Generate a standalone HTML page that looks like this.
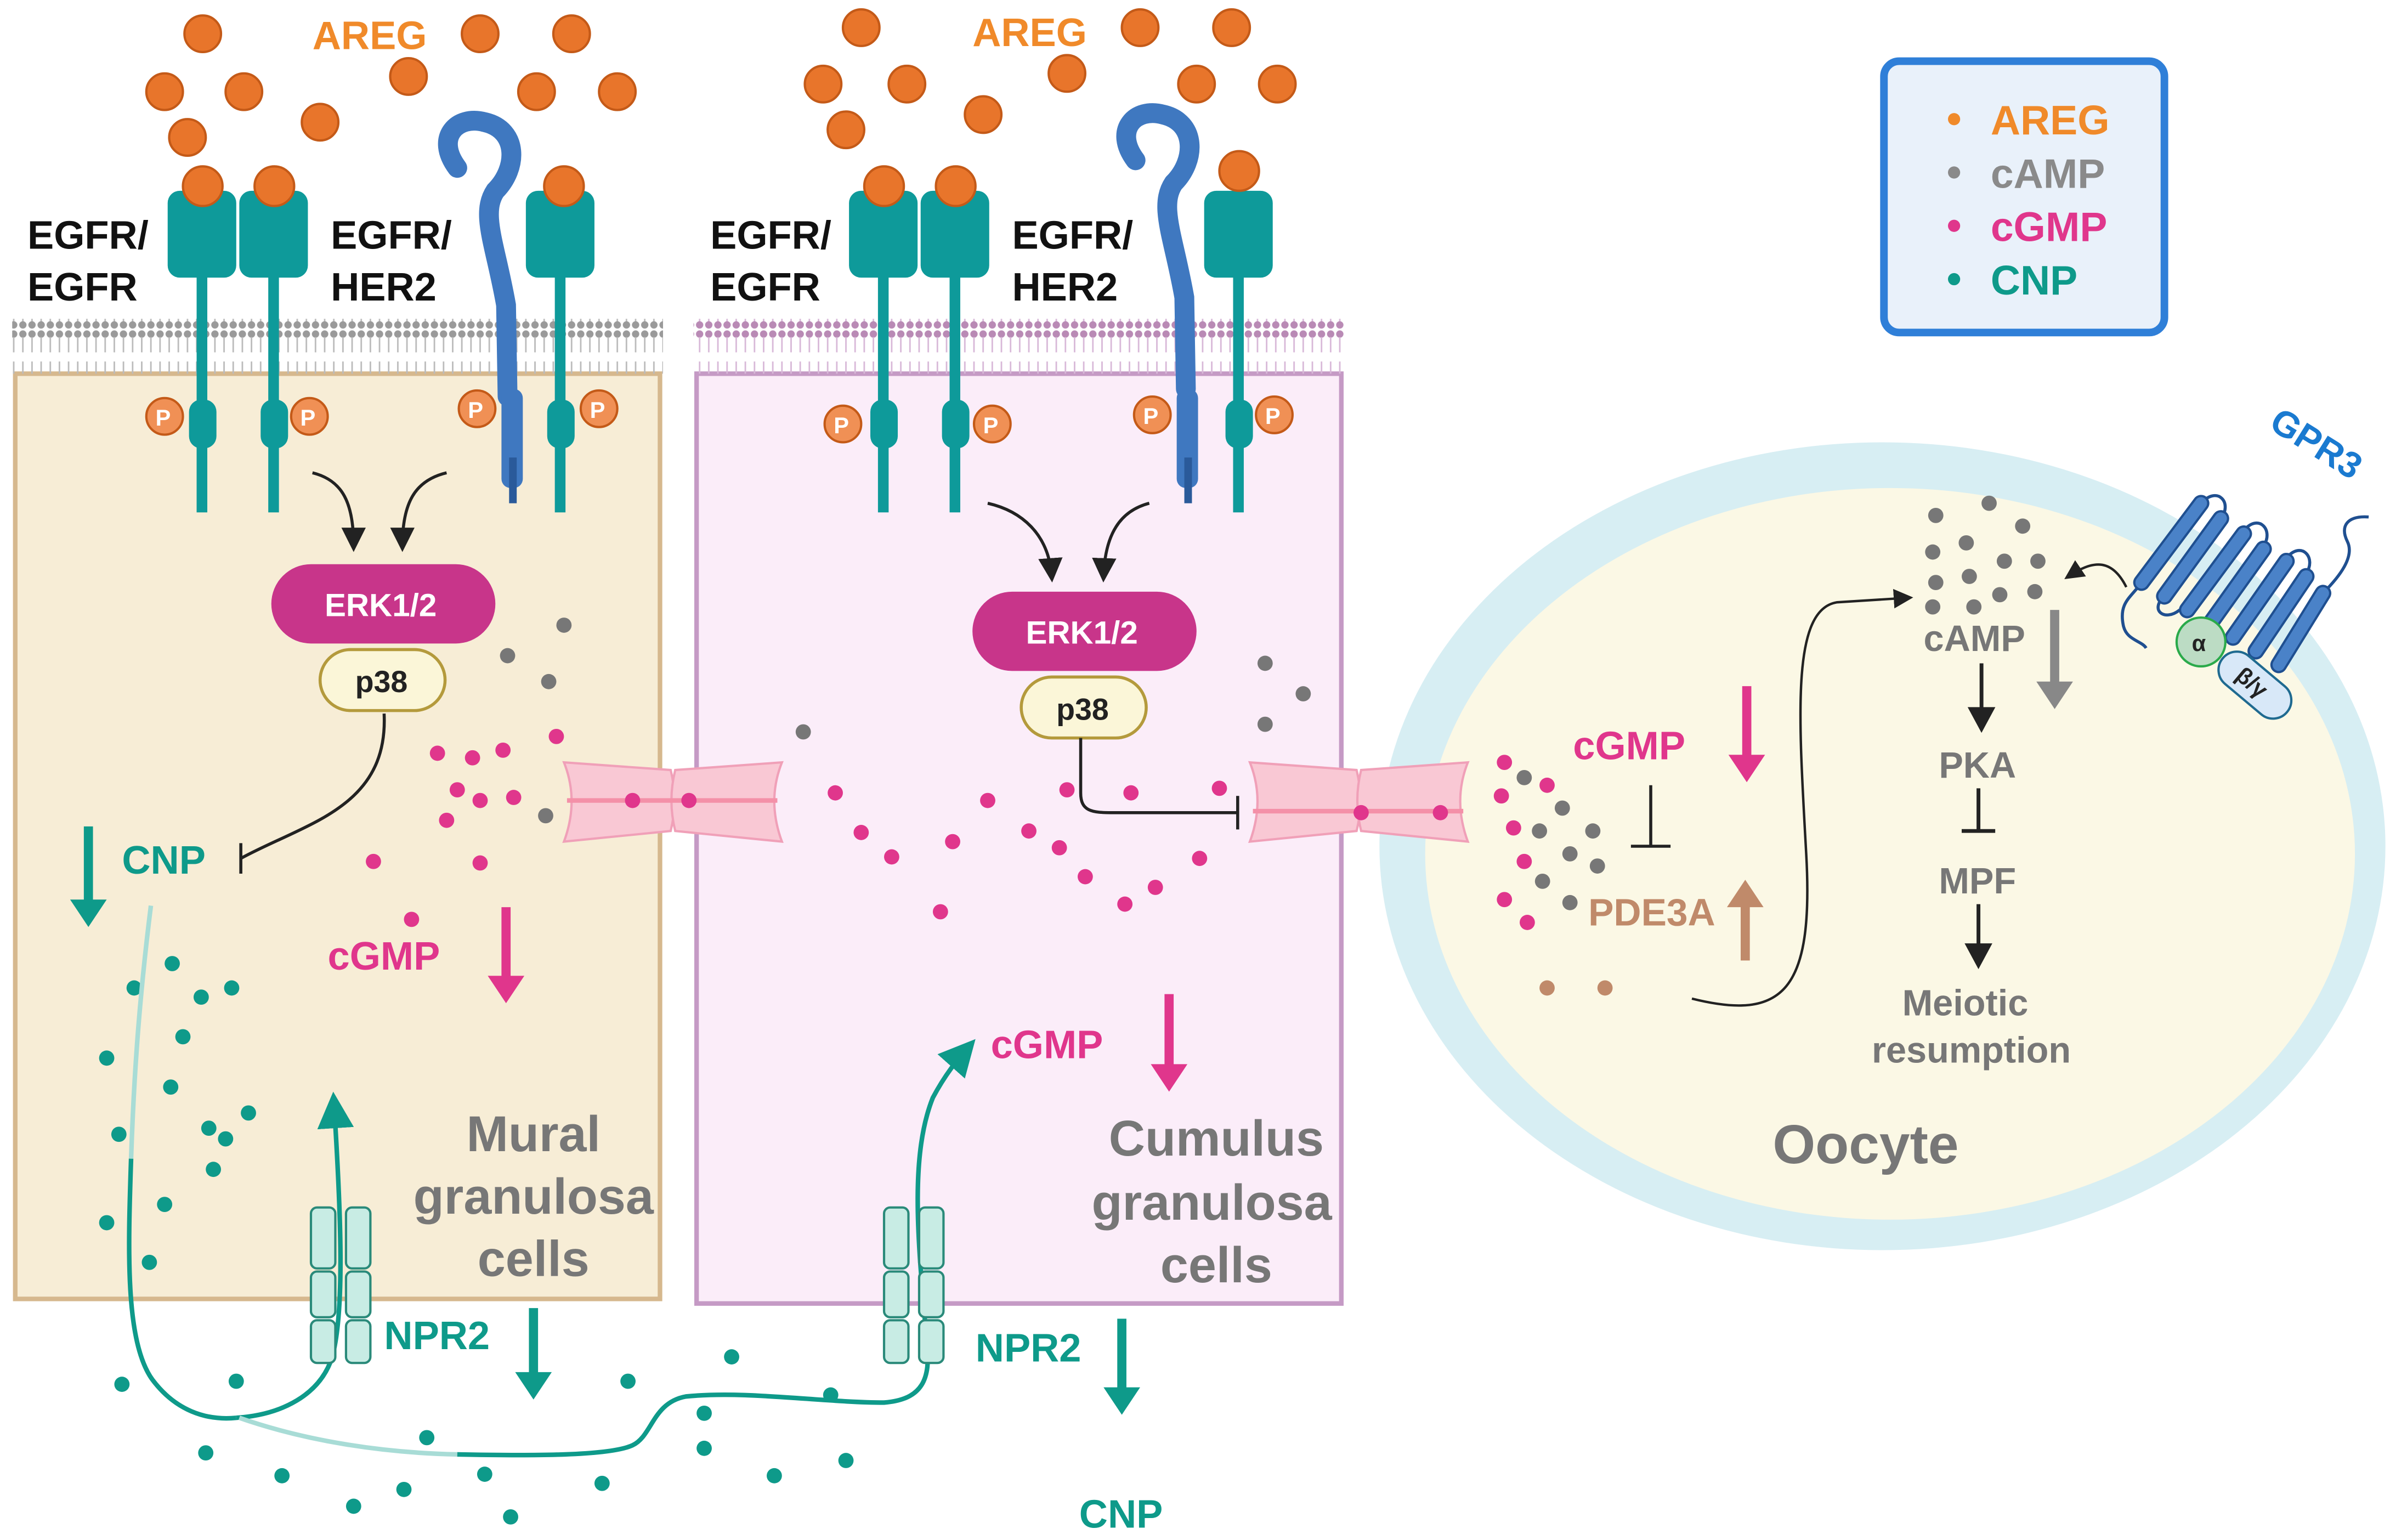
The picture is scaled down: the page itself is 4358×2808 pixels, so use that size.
<!DOCTYPE html>
<html><head><meta charset="utf-8"><style>
html,body{margin:0;padding:0;background:#fff;}
svg{display:block;}
text{font-family:"Liberation Sans",sans-serif;font-weight:bold;}
</style></head><body>
<svg width="4358" height="2808" viewBox="0 0 1568 1010" xmlns="http://www.w3.org/2000/svg">
<defs>
<marker id="ah" markerWidth="8" markerHeight="8" refX="6" refY="4" orient="auto"><path d="M0,0 L8,4 L0,8 z" fill="#222"/></marker>
<marker id="aht" markerWidth="8" markerHeight="8" refX="6" refY="4" orient="auto"><path d="M0,0 L8,4 L0,8 z" fill="#0e9a8a"/></marker>
<pattern id="lip" width="6" height="36" patternUnits="userSpaceOnUse">
<circle cx="3" cy="3" r="2.4" fill="#9a9a9a"/><line x1="3" y1="5" x2="3" y2="15" stroke="#bbb" stroke-width="1"/>
<line x1="3" y1="21" x2="3" y2="31" stroke="#bbb" stroke-width="1"/><circle cx="3" cy="33" r="2.4" fill="#9a9a9a"/>
</pattern>
<pattern id="lip2" width="6" height="36" patternUnits="userSpaceOnUse">
<circle cx="3" cy="3" r="2.4" fill="#b98ab5"/><line x1="3" y1="5" x2="3" y2="15" stroke="#d8b8d8" stroke-width="1"/>
<line x1="3" y1="21" x2="3" y2="31" stroke="#d8b8d8" stroke-width="1"/><circle cx="3" cy="33" r="2.4" fill="#b98ab5"/>
</pattern>
</defs>

<rect x="10" y="245" width="423" height="607" fill="#f7edd6" stroke="#d6b88e" stroke-width="3"/>
<rect x="457" y="245" width="423" height="610" fill="#fbedf9" stroke="#c59ac5" stroke-width="3"/>
<rect x="8" y="209" width="427" height="36" fill="url(#lip)"/>
<rect x="455" y="209" width="427" height="36" fill="url(#lip2)"/>

<ellipse cx="1235" cy="555" rx="330" ry="265" fill="#d7eef3"/>
<ellipse cx="1240" cy="560" rx="305" ry="240" fill="#fbf8e5"/>

<rect x="1236" y="40" width="184" height="178" rx="10" fill="#e9f1fa" stroke="#2f7fd8" stroke-width="5"/>
<circle cx="1282" cy="78" r="4" fill="#f08a2a"/><text x="1306" y="88" font-size="27" fill="#f08a2a">AREG</text>
<circle cx="1282" cy="113" r="4" fill="#8a8a8a"/><text x="1306" y="123" font-size="27" fill="#8a8a8a">cAMP</text>
<circle cx="1282" cy="148" r="4" fill="#e0368c"/><text x="1306" y="158" font-size="27" fill="#e0368c">cGMP</text>
<circle cx="1282" cy="183" r="4" fill="#0e9a8a"/><text x="1306" y="193" font-size="27" fill="#0e9a8a">CNP</text>

<g fill="#e8752b" stroke="#c45a18" stroke-width="1.5">
<circle cx="133" cy="22" r="12"/><circle cx="108" cy="60" r="12"/><circle cx="160" cy="60" r="12"/><circle cx="123" cy="90" r="12"/><circle cx="210" cy="80" r="12"/><circle cx="268" cy="50" r="12"/><circle cx="315" cy="22" r="12"/><circle cx="375" cy="22" r="12"/><circle cx="352" cy="60" r="12"/><circle cx="405" cy="60" r="12"/>
<circle cx="565" cy="18" r="12"/><circle cx="748" cy="18" r="12"/><circle cx="808" cy="18" r="12"/><circle cx="540" cy="55" r="12"/><circle cx="595" cy="55" r="12"/><circle cx="645" cy="75" r="12"/><circle cx="700" cy="48" r="12"/><circle cx="785" cy="55" r="12"/><circle cx="838" cy="55" r="12"/><circle cx="555" cy="85" r="12"/>
</g>
<text x="205" y="32" font-size="26" fill="#f08a2a">AREG</text>
<text x="638" y="30" font-size="26" fill="#f08a2a">AREG</text>

<g id="rec">
<rect x="110" y="125" width="45" height="57" rx="8" fill="#0e9a9a"/>
<rect x="129" y="180" width="7" height="156" fill="#0e9a9a"/>
<rect x="124" y="262" width="18" height="32" rx="8" fill="#0e9a9a"/>
</g>
<use href="#rec" x="47"/>
<use href="#rec" x="235"/>
<use href="#rec" x="447"/><use href="#rec" x="494"/><use href="#rec" x="680"/>
<g fill="#e8752b" stroke="#c45a18" stroke-width="1.5">
<circle cx="133" cy="122" r="13"/><circle cx="180" cy="122" r="13"/><circle cx="370" cy="122" r="13"/>
<circle cx="580" cy="122" r="13"/><circle cx="627" cy="122" r="13"/><circle cx="813" cy="112" r="13"/>
</g>
<g fill="none" stroke="#3f78c0" stroke-width="13" stroke-linecap="round">
<path d="M300,110 C285,90 300,75 318,80 C340,85 340,110 325,125 C315,140 325,160 332,200 L333,260"/>
<path d="M745,105 C730,85 745,70 763,75 C785,80 785,105 770,120 C760,135 770,155 777,195 L778,255"/>
</g>
<rect x="329" y="255" width="14" height="65" rx="6" fill="#3f78c0"/><rect x="334" y="300" width="5" height="30" fill="#2a5a9a"/>
<rect x="772" y="255" width="14" height="65" rx="6" fill="#3f78c0"/><rect x="777" y="300" width="5" height="30" fill="#2a5a9a"/>
<g font-size="15" fill="#fff">
<g fill="#f09055" stroke="#c45a18" stroke-width="1.5"><circle cx="108" cy="273" r="12"/><circle cx="203" cy="273" r="12"/><circle cx="313" cy="268" r="12"/><circle cx="393" cy="268" r="12"/><circle cx="553" cy="278" r="12"/><circle cx="651" cy="278" r="12"/><circle cx="756" cy="272" r="12"/><circle cx="836" cy="272" r="12"/></g>
<text x="102" y="279">P</text><text x="197" y="279">P</text><text x="307" y="274">P</text><text x="387" y="274">P</text><text x="547" y="284">P</text><text x="645" y="284">P</text><text x="750" y="278">P</text><text x="830" y="278">P</text>
</g>
<g font-size="26" fill="#111">
<text x="18" y="163">EGFR/</text><text x="18" y="197">EGFR</text>
<text x="217" y="163">EGFR/</text><text x="217" y="197">HER2</text>
<text x="466" y="163">EGFR/</text><text x="466" y="197">EGFR</text>
<text x="664" y="163">EGFR/</text><text x="664" y="197">HER2</text>
</g>

<g fill="none" stroke="#222" stroke-width="2" marker-end="url(#ah)">
<path d="M205,310 C225,315 232,330 232,358"/><path d="M293,310 C272,315 264,330 264,358"/>
<path d="M648,330 C670,335 688,350 690,378"/><path d="M754,330 C735,335 725,350 724,378"/>
</g>
<rect x="178" y="370" width="147" height="52" rx="26" fill="#c8358a"/>
<text x="213" y="404" font-size="21" fill="#fff" font-weight="normal">ERK1/2</text>
<rect x="210" y="426" width="82" height="40" rx="20" fill="#fbf6d8" stroke="#b49a3c" stroke-width="2"/>
<text x="233" y="454" font-size="20" fill="#222" font-weight="normal">p38</text>
<rect x="638" y="388" width="147" height="52" rx="26" fill="#c8358a"/>
<text x="673" y="422" font-size="21" fill="#fff" font-weight="normal">ERK1/2</text>
<rect x="670" y="444" width="82" height="40" rx="20" fill="#fbf6d8" stroke="#b49a3c" stroke-width="2"/>
<text x="693" y="472" font-size="20" fill="#222" font-weight="normal">p38</text>
<path d="M252,468 C255,530 200,540 158,563" fill="none" stroke="#222" stroke-width="2"/><line x1="158" y1="553" x2="158" y2="573" stroke="#222" stroke-width="2"/>
<path d="M709,484 L709,520 C709,532 716,533 730,533 L812,533" fill="none" stroke="#222" stroke-width="2"/><line x1="812" y1="522" x2="812" y2="544" stroke="#222" stroke-width="2"/>
<line x1="1083" y1="515" x2="1083" y2="555" stroke="#222" stroke-width="2"/><line x1="1070" y1="555" x2="1096" y2="555" stroke="#222" stroke-width="2"/>

<g fill="#f9c8d4" stroke="#f0a0b8" stroke-width="1.5">
<path d="M370,500 Q380,525 370,552 L440,545 Q445,525 440,505 z"/><path d="M443,505 Q438,525 443,545 L513,552 Q503,525 513,500 z"/>
<path d="M820,500 Q830,525 820,552 L890,545 Q895,525 890,505 z"/><path d="M893,505 Q888,525 893,545 L963,552 Q953,525 963,500 z"/>
</g>
<g stroke="#f490a8" stroke-width="3"><line x1="372" y1="525" x2="510" y2="525"/><line x1="822" y1="532" x2="960" y2="532"/></g>

<g fill="#e0368c">
<circle cx="287" cy="494" r="5"/><circle cx="310" cy="497" r="5"/><circle cx="330" cy="492" r="5"/><circle cx="365" cy="483" r="5"/><circle cx="300" cy="518" r="5"/><circle cx="315" cy="525" r="5"/><circle cx="337" cy="523" r="5"/><circle cx="293" cy="538" r="5"/><circle cx="245" cy="565" r="5"/><circle cx="315" cy="566" r="5"/><circle cx="270" cy="603" r="5"/>
<circle cx="415" cy="525" r="5"/><circle cx="452" cy="525" r="5"/>
<circle cx="548" cy="520" r="5"/><circle cx="565" cy="546" r="5"/><circle cx="585" cy="562" r="5"/><circle cx="625" cy="552" r="5"/><circle cx="648" cy="525" r="5"/><circle cx="675" cy="545" r="5"/><circle cx="695" cy="556" r="5"/><circle cx="700" cy="518" r="5"/><circle cx="742" cy="520" r="5"/><circle cx="712" cy="575" r="5"/><circle cx="738" cy="593" r="5"/><circle cx="758" cy="582" r="5"/><circle cx="787" cy="563" r="5"/><circle cx="800" cy="517" r="5"/><circle cx="617" cy="598" r="5"/>
<circle cx="893" cy="533" r="5"/><circle cx="945" cy="533" r="5"/>
<circle cx="987" cy="500" r="5"/><circle cx="985" cy="522" r="5"/><circle cx="993" cy="543" r="5"/><circle cx="1000" cy="565" r="5"/><circle cx="987" cy="590" r="5"/><circle cx="1002" cy="605" r="5"/><circle cx="1015" cy="515" r="5"/>
</g>
<g fill="#777">
<circle cx="370" cy="410" r="5"/><circle cx="333" cy="430" r="5"/><circle cx="360" cy="447" r="5"/><circle cx="358" cy="535" r="5"/>
<circle cx="527" cy="480" r="5"/><circle cx="830" cy="435" r="5"/><circle cx="855" cy="455" r="5"/><circle cx="830" cy="475" r="5"/>
<circle cx="1000" cy="510" r="5"/><circle cx="1025" cy="530" r="5"/><circle cx="1010" cy="545" r="5"/><circle cx="1045" cy="545" r="5"/><circle cx="1030" cy="560" r="5"/><circle cx="1048" cy="568" r="5"/><circle cx="1012" cy="578" r="5"/><circle cx="1030" cy="592" r="5"/>
<circle cx="1270" cy="338" r="5"/><circle cx="1305" cy="330" r="5"/><circle cx="1327" cy="345" r="5"/><circle cx="1268" cy="362" r="5"/><circle cx="1290" cy="356" r="5"/><circle cx="1315" cy="368" r="5"/><circle cx="1337" cy="368" r="5"/><circle cx="1270" cy="382" r="5"/><circle cx="1292" cy="378" r="5"/><circle cx="1312" cy="390" r="5"/><circle cx="1335" cy="388" r="5"/><circle cx="1268" cy="398" r="5"/><circle cx="1295" cy="398" r="5"/>
</g>
<g fill="#c08a6a"><circle cx="1015" cy="648" r="5"/><circle cx="1053" cy="648" r="5"/></g>

<g fill="#0e9a8a">
<circle cx="113" cy="632" r="5"/><circle cx="88" cy="648" r="5"/><circle cx="132" cy="654" r="5"/><circle cx="152" cy="648" r="5"/><circle cx="120" cy="680" r="5"/><circle cx="70" cy="694" r="5"/><circle cx="112" cy="713" r="5"/><circle cx="78" cy="744" r="5"/><circle cx="137" cy="740" r="5"/><circle cx="148" cy="747" r="5"/><circle cx="163" cy="730" r="5"/><circle cx="140" cy="767" r="5"/><circle cx="108" cy="790" r="5"/><circle cx="70" cy="802" r="5"/><circle cx="98" cy="828" r="5"/>
<circle cx="80" cy="908" r="5"/><circle cx="155" cy="906" r="5"/><circle cx="135" cy="953" r="5"/><circle cx="185" cy="968" r="5"/><circle cx="232" cy="988" r="5"/><circle cx="265" cy="977" r="5"/><circle cx="280" cy="943" r="5"/><circle cx="318" cy="967" r="5"/><circle cx="335" cy="995" r="5"/><circle cx="395" cy="973" r="5"/><circle cx="412" cy="906" r="5"/><circle cx="462" cy="927" r="5"/><circle cx="480" cy="890" r="5"/><circle cx="462" cy="950" r="5"/><circle cx="508" cy="968" r="5"/><circle cx="545" cy="915" r="5"/><circle cx="555" cy="958" r="5"/>
</g>
<!-- CNP paths -->
<path d="M99,594 C92,650 88,700 86,760" fill="none" stroke="#a8dcd6" stroke-width="3"/>
<path d="M86,760 C84,820 82,880 100,905 C115,925 135,932 155,930" fill="none" stroke="#0e9a8a" stroke-width="3"/>
<path d="M155,930 C185,928 210,915 218,890 C226,860 224,800 219,722" fill="none" stroke="#0e9a8a" stroke-width="3" marker-end="url(#aht)"/>
<path d="M157,930 C200,945 250,953 300,954" fill="none" stroke="#a8dcd6" stroke-width="3"/>
<path d="M300,954 C350,955 400,955 415,948 C428,942 428,920 450,916 C490,912 540,920 580,920 C605,918 611,905 608,880 C603,820 596,760 612,720 C620,705 628,695 636,686" fill="none" stroke="#0e9a8a" stroke-width="3" marker-end="url(#aht)"/>

<g fill="#c8ece4" stroke="#2a8a7a" stroke-width="1.5">
<rect x="204" y="792" width="16" height="40" rx="4"/><rect x="227" y="792" width="16" height="40" rx="4"/>
<rect x="204" y="834" width="16" height="30" rx="4"/><rect x="227" y="834" width="16" height="30" rx="4"/>
<rect x="204" y="866" width="16" height="28" rx="4"/><rect x="227" y="866" width="16" height="28" rx="4"/>
<rect x="580" y="792" width="16" height="40" rx="4"/><rect x="603" y="792" width="16" height="40" rx="4"/>
<rect x="580" y="834" width="16" height="30" rx="4"/><rect x="603" y="834" width="16" height="30" rx="4"/>
<rect x="580" y="866" width="16" height="28" rx="4"/><rect x="603" y="866" width="16" height="28" rx="4"/>
</g>
<g font-size="26" fill="#0e9a8a">
<text x="252" y="885">NPR2</text><text x="640" y="893">NPR2</text>
<text x="80" y="573">CNP</text><text x="708" y="1002">CNP</text>
</g>
<g font-size="26" fill="#e0368c">
<text x="215" y="636">cGMP</text><text x="650" y="694">cGMP</text><text x="1032" y="498">cGMP</text>
</g>
<text x="1042" y="607" font-size="25" fill="#c08a6a">PDE3A</text>

<g stroke-width="6" fill="none">
<line x1="58" y1="542" x2="58" y2="595" stroke="#0e9a8a"/><path d="M46,590 L58,608 L70,590z" fill="#0e9a8a"/>
<line x1="332" y1="595" x2="332" y2="645" stroke="#e0368c"/><path d="M320,640 L332,658 L344,640z" fill="#e0368c"/>
<line x1="350" y1="858" x2="350" y2="905" stroke="#0e9a8a"/><path d="M338,900 L350,918 L362,900z" fill="#0e9a8a"/>
<line x1="767" y1="652" x2="767" y2="703" stroke="#e0368c"/><path d="M755,698 L767,716 L779,698z" fill="#e0368c"/>
<line x1="736" y1="865" x2="736" y2="915" stroke="#0e9a8a"/><path d="M724,910 L736,928 L748,910z" fill="#0e9a8a"/>
<line x1="1146" y1="450" x2="1146" y2="500" stroke="#e0368c"/><path d="M1134,495 L1146,513 L1158,495z" fill="#e0368c"/>
<line x1="1145" y1="630" x2="1145" y2="590" stroke="#c08a6a"/><path d="M1133,595 L1145,577 L1157,595z" fill="#c08a6a"/>
<line x1="1348" y1="400" x2="1348" y2="452" stroke="#888"/><path d="M1336,447 L1348,465 L1360,447z" fill="#888"/>
</g>

<path d="M1110,655 C1170,670 1190,650 1185,560 C1180,470 1175,400 1205,395 L1252,392" fill="none" stroke="#222" stroke-width="1.6" marker-end="url(#ah)"/>
<path d="M1395,385 C1385,365 1372,368 1357,378" fill="none" stroke="#222" stroke-width="1.6" marker-end="url(#ah)"/>
<g font-size="24" fill="#777">
<text x="1262" y="427">cAMP</text><text x="1272" y="510">PKA</text><text x="1272" y="586">MPF</text>
<text x="1248" y="666">Meiotic</text><text x="1228" y="697">resumption</text>
</g>
<text x="1163" y="763" font-size="36" fill="#777">Oocyte</text>
<g stroke="#222" stroke-width="2.5" fill="none">
<line x1="1300" y1="435" x2="1300" y2="470"/><path d="M1293,465 L1300,478 L1307,465z" fill="#222"/>
<line x1="1298" y1="517" x2="1298" y2="545"/><line x1="1287" y1="545" x2="1309" y2="545"/>
<line x1="1298" y1="593" x2="1298" y2="625"/><path d="M1291,620 L1298,633 L1305,620z" fill="#222"/>
</g>

<!-- GPR3 -->
<g fill="none" stroke="#1f4f90" stroke-width="2">
<path d="M1405,382 C1398,392 1390,395 1393,410 C1395,420 1405,420 1408,425"/>
<path d="M1444,330 C1455,318 1465,330 1457,340"/>
<path d="M1420,391 C1410,400 1420,408 1430,400"/>
<path d="M1472,348 C1482,336 1492,348 1485,358"/>
<path d="M1500,366 C1510,354 1520,366 1513,376"/>
<path d="M1524,389 C1535,378 1545,365 1540,355 C1535,345 1540,338 1554,339"/>
</g>
<g stroke-linecap="round">
<g stroke="#1f4f90" stroke-width="11">
<line x1="1405" y1="382" x2="1444" y2="330"/><line x1="1420" y1="391" x2="1457" y2="340"/><line x1="1435" y1="400" x2="1472" y2="350"/><line x1="1450" y1="409" x2="1485" y2="360"/><line x1="1465" y1="418" x2="1500" y2="368"/><line x1="1480" y1="427" x2="1513" y2="378"/><line x1="1495" y1="436" x2="1524" y2="389"/>
</g>
<g stroke="#4a82c8" stroke-width="8">
<line x1="1405" y1="382" x2="1444" y2="330"/><line x1="1420" y1="391" x2="1457" y2="340"/><line x1="1435" y1="400" x2="1472" y2="350"/><line x1="1450" y1="409" x2="1485" y2="360"/><line x1="1465" y1="418" x2="1500" y2="368"/><line x1="1480" y1="427" x2="1513" y2="378"/><line x1="1495" y1="436" x2="1524" y2="389"/>
</g>
</g>
<rect x="1452" y="437" width="55" height="24" rx="12" transform="rotate(40 1479 449)" fill="#d8e8f8" stroke="#1f6a90" stroke-width="1.5"/>
<circle cx="1444" cy="421" r="16" fill="#bcdcc4" stroke="#2aaa4a" stroke-width="1.5"/>
<text x="1438" y="427" font-size="15" fill="#222" font-weight="normal">α</text>
<text x="1466" y="454" font-size="15" fill="#222" font-weight="normal" transform="rotate(40 1479 449)">β/γ</text>
<text x="1478" y="296" font-size="24" fill="#1a7ad0" transform="rotate(32 1510 305)">GPR3</text>

<g font-size="33" fill="#777" text-anchor="middle">
<text x="350" y="755">Mural</text><text x="350" y="796">granulosa</text><text x="350" y="837">cells</text>
<text x="798" y="758">Cumulus</text><text x="795" y="800">granulosa</text><text x="798" y="841">cells</text>
</g>
</svg>
</body></html>
